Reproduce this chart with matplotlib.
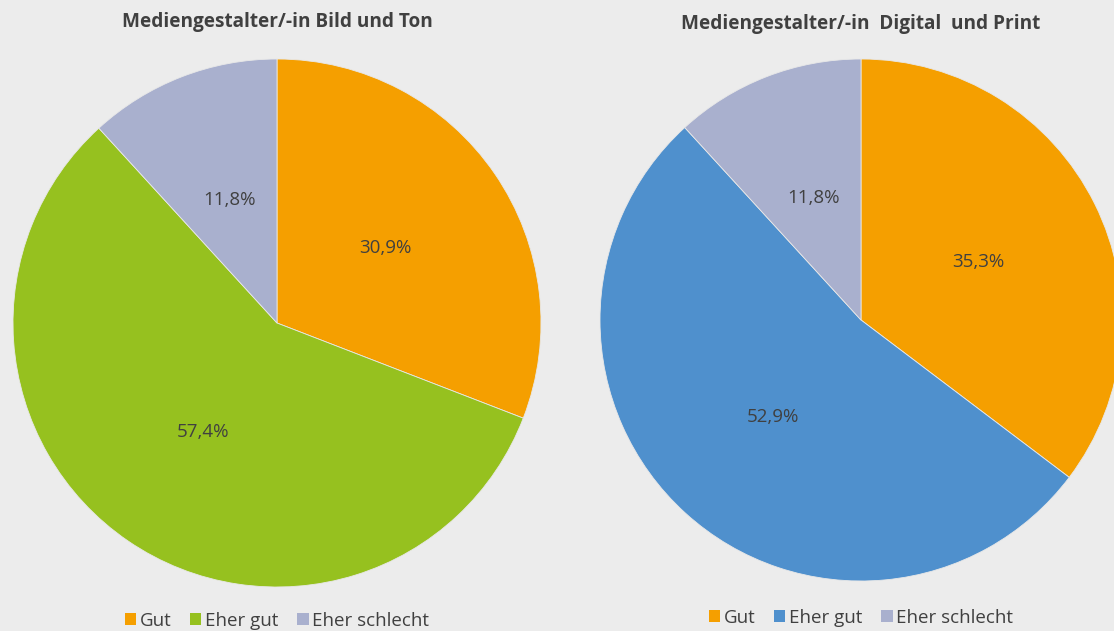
import numpy as np
import matplotlib.pyplot as plt
from matplotlib.patches import Patch

# Data
categories = ['Gut', 'Eher gut', 'Eher schlecht']
bild_ton = [30.9, 57.4, 11.8]
digital_print = [35.3, 52.9, 11.8]
labels_bild_ton = ['30,9%', '57,4%', '11,8%']
labels_digital_print = ['35,3%', '52,9%', '11,8%']
titles = ['Mediengestalter/-in Bild und Ton', 'Mediengestalter/-in  Digital  und Print']

colors_left = ['#F59F00', '#96C11F', '#A9B0CE']
colors_right = ['#F59F00', '#4F90CD', '#A9B0CE']

bg = '#ECECEC'
text_col = '#404040'
plt.rcParams['font.family'] = ['Open Sans', 'DejaVu Sans']

W, H = 1114, 631
fig = plt.figure(figsize=(W / 100, H / 100), dpi=100, facecolor=bg)


def add_pie(cx, cy, r, values, pct_labels, colors, title, title_y, legend_y):
    ax = fig.add_axes([(cx - r) / W, (H - cy - r) / H, 2 * r / W, 2 * r / H])
    ax.set_facecolor(bg)
    wedges, _ = ax.pie(values, colors=colors, startangle=90, counterclock=False,
                       radius=1, wedgeprops=dict(edgecolor='#E8E8E8', linewidth=0.6))
    # percentage labels at half radius
    for w, lab in zip(wedges, pct_labels):
        ang = np.deg2rad((w.theta1 + w.theta2) / 2)
        ax.text(0.5 * np.cos(ang), 0.5 * np.sin(ang), lab, ha='center', va='center',
                fontsize=13.5, color=text_col)
    ax.set_xlim(-1, 1)
    ax.set_ylim(-1, 1)
    ax.set_aspect('auto')
    ax.axis('off')
    fig.text(cx / W, 1 - title_y / H, title, ha='center', va='center',
             fontsize=13.7, fontweight='bold', color=text_col)
    handles = [Patch(facecolor=c, edgecolor='none') for c in colors]
    fig.legend(handles, categories, loc='center', bbox_to_anchor=(cx / W, 1 - legend_y / H),
               ncol=3, frameon=False, fontsize=13.5, labelcolor=text_col,
               handlelength=0.6, handleheight=0.6, handletextpad=0.2, columnspacing=1.0)


add_pie(277, 323, 264, bild_ton, labels_bild_ton, colors_left, titles[0], 22, 621)
add_pie(861, 320, 261, digital_print, labels_digital_print, colors_right, titles[1], 24, 618)

fig.savefig('out.png', dpi=100, facecolor=bg)
